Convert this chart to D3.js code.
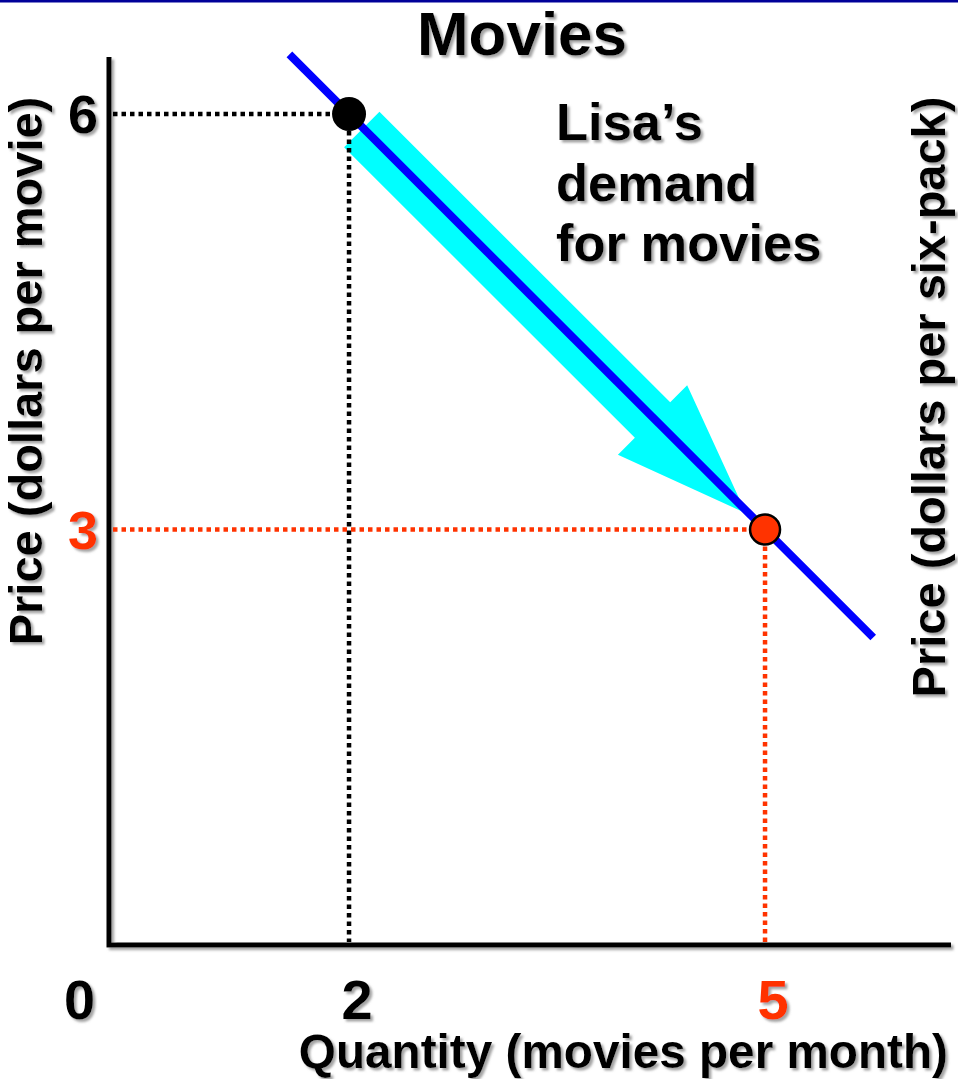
<!DOCTYPE html>
<html>
<head>
<meta charset="utf-8">
<script src="https://cdn.jsdelivr.net/npm/d3@7"></script>
<style>
  html, body { margin: 0; padding: 0; background: #fff; }
  svg { display: block; }
  text { font-family: "Liberation Sans", Arial, Helvetica, sans-serif; font-weight: bold; }
</style>
</head>
<body>
<script>
// Demand for movies: two observed price/quantity points on Lisa's demand curve
const pointQuantity = [2, 5];          // movies per month
const pointPrice = [6, 3];             // dollars per movie
const demandQuantity = [1.57, 5.78];   // ends of the drawn demand line
const demandPrice = [6.43, 2.22];
const xTickValues = [0, 2, 5];
const xTickLabels = ["0", "2", "5"];
const yTickValues = [6, 3];
const yTickLabels = ["6", "3"];
const curveLabel = ["Lisa\u2019s", "demand", "for movies"];

const W = 958, H = 1079;
const RED = "#ff3300";
const BLUE = "#0000ff";
const CYAN = "#00ffff";

const svg = d3.select("body").append("svg")
  .attr("width", W).attr("height", H);

const defs = svg.append("defs");
defs.append("filter").attr("id", "shadow")
  .attr("x", "-10%").attr("y", "-10%").attr("width", "130%").attr("height", "130%")
  .append("feDropShadow")
  .attr("dx", 2.5).attr("dy", 2.5).attr("stdDeviation", 1)
  .attr("flood-color", "#8c8c8c").attr("flood-opacity", 0.8);

// top rule
svg.append("rect").attr("x", 0).attr("y", 0).attr("width", W).attr("height", 2.5)
  .attr("fill", "#000099");

// scales
const x = d3.scaleLinear().domain([0, 6]).range([71.7, 903.7]);
const y = d3.scaleLinear().domain([0, 6]).range([945, 114]);

const axisLeftX = 109, axisTopY = 57, axisRightX = 951;

// axes
const axes = svg.append("g").attr("filter", "url(#shadow)");
axes.append("path")
  .attr("d", `M${axisLeftX},${axisTopY}V${y(0)}H${axisRightX}`)
  .attr("fill", "none").attr("stroke", "#000").attr("stroke-width", 5)
  .attr("stroke-linejoin", "miter");

// arrow showing movement along the demand curve
const p1 = [x(pointQuantity[0]), y(pointPrice[0])];
const p2 = [x(pointQuantity[1]), y(pointPrice[1])];
const len = Math.hypot(p2[0] - p1[0], p2[1] - p1[1]);
const u = [(p2[0] - p1[0]) / len, (p2[1] - p1[1]) / len];
const n = [-u[1], u[0]];
const off = 2, shaftHalf = 25, headHalf = 49;
const sStart = 20, sHead = len - 157, sTip = len - 25;
const at = (s, t) => [p1[0] + u[0] * s + n[0] * (t + off), p1[1] + u[1] * s + n[1] * (t + off)];
const arrowPts = [
  at(sStart, -shaftHalf), at(sHead, -shaftHalf), at(sHead, -headHalf),
  at(sTip, 0),
  at(sHead, headHalf), at(sHead, shaftHalf), at(sStart, shaftHalf)
];
svg.append("path")
  .attr("d", d3.line()(arrowPts) + "Z")
  .attr("fill", CYAN);

// demand curve
svg.append("path")
  .datum(d3.zip(demandQuantity, demandPrice))
  .attr("d", d3.line().x(d => x(d[0])).y(d => y(d[1])))
  .attr("fill", "none").attr("stroke", BLUE).attr("stroke-width", 8);

// dotted guides from each point to the axes
const guides = svg.append("g");
pointQuantity.forEach((q, i) => {
  const col = i === 0 ? "#000" : RED;
  guides.append("line")
    .attr("x1", axisLeftX + 4).attr("x2", x(q))
    .attr("y1", y(pointPrice[i])).attr("y2", y(pointPrice[i]))
    .attr("stroke", col).attr("stroke-width", 4.5).attr("stroke-dasharray", "4.5,4");
  guides.append("line")
    .attr("x1", x(q)).attr("x2", x(q))
    .attr("y1", y(pointPrice[i])).attr("y2", y(0) - 3)
    .attr("stroke", col).attr("stroke-width", 4.5).attr("stroke-dasharray", "4.5,4");
});

// points
pointQuantity.forEach((q, i) => {
  svg.append("circle")
    .attr("cx", x(q)).attr("cy", y(pointPrice[i]))
    .attr("r", i === 0 ? 17 : 15)
    .attr("fill", i === 0 ? "#000" : RED)
    .attr("stroke", "#000").attr("stroke-width", i === 0 ? 0 : 2.5);
});

// text
const txt = svg.append("g").attr("filter", "url(#shadow)");

txt.append("text").attr("x", 522).attr("y", 55)
  .attr("text-anchor", "middle").attr("font-size", 62).text("Movies");

curveLabel.forEach((s, i) => {
  txt.append("text").attr("x", 556).attr("y", 140 + i * 60.5)
    .attr("font-size", 52.5).text(s);
});

xTickValues.forEach((v, i) => {
  txt.append("text").attr("x", x(v) + 8).attr("y", 1019)
    .attr("text-anchor", "middle").attr("font-size", 56)
    .attr("fill", v === pointQuantity[1] ? RED : "#000")
    .text(xTickLabels[i]);
});

yTickValues.forEach((v, i) => {
  txt.append("text").attr("x", 98).attr("y", y(v) + 19)
    .attr("text-anchor", "end").attr("font-size", 54)
    .attr("fill", v === pointPrice[1] ? RED : "#000")
    .text(yTickLabels[i]);
});

txt.append("text")
  .attr("transform", "translate(42,371) rotate(-90)")
  .attr("text-anchor", "middle").attr("font-size", 47)
  .text("Price (dollars per movie)");

txt.append("text")
  .attr("transform", "translate(945,397) rotate(-90)")
  .attr("text-anchor", "middle").attr("font-size", 47)
  .text("Price (dollars per six-pack)");

txt.append("text").attr("x", 948).attr("y", 1068)
  .attr("text-anchor", "end").attr("font-size", 47.7)
  .text("Quantity (movies per month)");
</script>
</body>
</html>
